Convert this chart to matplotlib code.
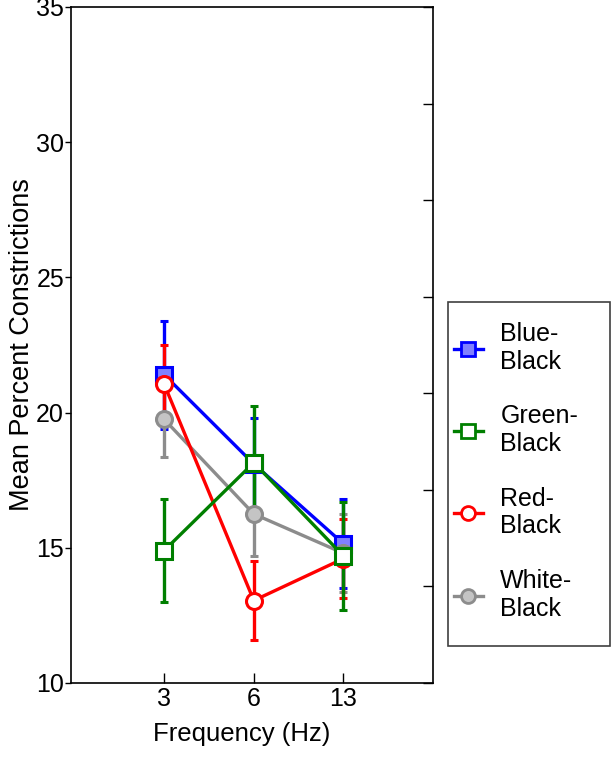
import matplotlib
matplotlib.use("Agg")
import matplotlib.pyplot as plt
from matplotlib.lines import Line2D
from matplotlib.patches import Rectangle
import numpy as np

plt.rcParams['font.family'] = ['Liberation Sans', 'DejaVu Sans']

freq_labels = ["3", "6", "13"]
series_names = ["Blue-\nBlack", "Green-\nBlack", "Red-\nBlack", "White-\nBlack"]
blue_mean = [21.4, 18.1, 15.15]
blue_err = [2.0, 1.7, 1.65]
green_mean = [14.9, 18.15, 14.7]
green_err = [1.9, 2.1, 2.0]
red_mean = [21.05, 13.05, 14.6]
red_err = [1.45, 1.45, 1.45]
white_mean = [19.75, 16.25, 14.8]
white_err = [1.4, 1.55, 1.45]

W, H = 613, 762
fig = plt.figure(figsize=(W / 100, H / 100), dpi=100)
ax = fig.add_axes([71 / W, 79 / H, 362 / W, 676 / H])

x = np.arange(1, len(freq_labels) + 1)

styles = {
    "Blue-\nBlack": dict(color="#0000ff", marker="s", mfc="#8080ff", ms=12),
    "Green-\nBlack": dict(color="#007f00", marker="s", mfc="white", ms=12),
    "Red-\nBlack": dict(color="#ff0000", marker="o", mfc="white", ms=11.5),
    "White-\nBlack": dict(color="#8c8c8c", marker="o", mfc="#c4c4c4", ms=11.5),
}
data = {
    "Blue-\nBlack": (blue_mean, blue_err),
    "Green-\nBlack": (green_mean, green_err),
    "Red-\nBlack": (red_mean, red_err),
    "White-\nBlack": (white_mean, white_err),
}
for name in ["Blue-\nBlack", "White-\nBlack", "Red-\nBlack", "Green-\nBlack"]:
    m, e = data[name]
    st = styles[name]
    ax.errorbar(x, m, yerr=e, color=st["color"], marker=st["marker"],
                mfc=st["mfc"], mec=st["color"], ms=st["ms"], mew=2.2,
                lw=2.4, elinewidth=2.4, capsize=3, capthick=2.4)

ax.set_xlim(-0.04, 4)
ax.set_ylim(10, 35)
ax.set_xticks(x)
ax.set_xticklabels(freq_labels)
ax.set_yticks([10, 15, 20, 25, 30, 35])
ax.tick_params(axis='x', direction='in', length=7, width=1, labelsize=18, pad=3)
ax.tick_params(axis='y', direction='out', length=4, width=1, labelsize=18, pad=1)
ax.set_xlabel("Frequency (Hz)", fontsize=18.5)
ax.xaxis.set_label_coords(0.472, -0.058, transform=ax.transAxes)
ax.set_ylabel("Mean Percent Constrictions", fontsize=19.5)
ax.yaxis.set_label_coords(-0.1, 0.5, transform=ax.transAxes)
for s in ax.spines.values():
    s.set_linewidth(1.2)

ax2 = ax.twinx()
ax2.set_ylim(0, 7)
ax2.set_yticks(range(8))
ax2.tick_params(axis='y', direction='in', length=7, width=1, labelright=False)
for s in ax2.spines.values():
    s.set_visible(False)

order = ["Blue-\nBlack", "Green-\nBlack", "Red-\nBlack", "White-\nBlack"]
handles = []
for n in order:
    st = styles[n]
    handles.append(Line2D([], [], color=st["color"], marker=st["marker"],
                          mfc=st["mfc"], mec=st["color"], ms=10, mew=2.0, lw=2.4))

# legend frame
fig.patches.append(Rectangle((448 / W, (H - 646) / H), (610 - 448) / W, (646 - 302) / H,
                             transform=fig.transFigure, fill=False,
                             edgecolor='#404040', linewidth=1.2))
leg = fig.legend(handles, order, loc='upper left',
                 bbox_to_anchor=(454 / W, (H - 322) / H), fontsize=18, frameon=False,
                 handlelength=1.15, labelspacing=1.22, borderpad=0, handletextpad=0.7,
                 borderaxespad=0)

fig.savefig("out.png", dpi=100)
